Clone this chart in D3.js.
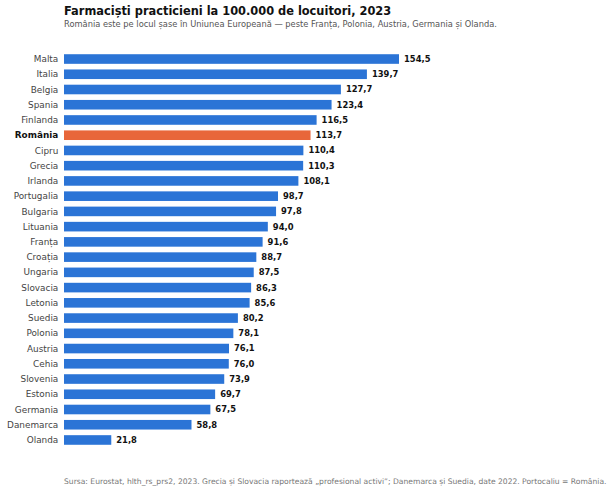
<!DOCTYPE html>
<html>
<head>
<meta charset="utf-8">
<script src="https://cdn.jsdelivr.net/npm/d3@7"></script>
<style>
  body { margin: 0; background: #fff; }
  text { font-family: "DejaVu Sans", sans-serif; }
</style>
</head>
<body>
<div id="chart"></div>
<script>
// date: farmacisti la 100.000 locuitori
const tari = ["Malta", "Italia", "Belgia", "Spania", "Finlanda", "România", "Cipru", "Grecia", "Irlanda",
  "Portugalia", "Bulgaria", "Lituania", "Franța", "Croația", "Ungaria", "Slovacia", "Letonia", "Suedia",
  "Polonia", "Austria", "Cehia", "Slovenia", "Estonia", "Germania", "Danemarca", "Olanda"];
const valori = [154.5, 139.7, 127.7, 123.4, 116.5, 113.7, 110.4, 110.3, 108.1, 98.7, 97.8, 94.0, 91.6,
  88.7, 87.5, 86.3, 85.6, 80.2, 78.1, 76.1, 76.0, 73.9, 69.7, 67.5, 58.8, 21.8];
const evidentiat = "România";

const width = 614, height = 495;
const left = 64;

const svg = d3.select("#chart").append("svg")
  .attr("width", width)
  .attr("height", height);

const x = d3.scaleLinear().domain([0, 154.5]).range([left, 399]);
const y = d3.scaleBand().domain(tari).range([51.4, 447.6]).paddingInner(0.37).paddingOuter(0.185);

const fmt = v => d3.format(".1f")(v).replace(".", ",");

// titlu
svg.append("text")
  .attr("x", left).attr("y", 14.8)
  .attr("font-size", 11.4).attr("font-weight", "bold").attr("fill", "#111")
  .text("Farmaciști practicieni la 100.000 de locuitori, 2023");

svg.append("text")
  .attr("x", left).attr("y", 27)
  .attr("font-size", 8.3).attr("fill", "#555")
  .text("România este pe locul șase în Uniunea Europeană — peste Franța, Polonia, Austria, Germania și Olanda.");

const rows = svg.append("g").selectAll("g")
  .data(tari)
  .join("g");

rows.append("rect")
  .attr("x", x(0))
  .attr("y", d => y(d))
  .attr("width", (d, i) => x(valori[i]) - x(0))
  .attr("height", y.bandwidth())
  .attr("fill", d => d === evidentiat ? "#e8663a" : "#2b74d6");

rows.append("text")
  .attr("x", left - 5.7)
  .attr("y", d => y(d) + y.bandwidth() / 2)
  .attr("dy", "0.35em")
  .attr("text-anchor", "end")
  .attr("font-size", 8.9)
  .attr("font-weight", d => d === evidentiat ? "bold" : "normal")
  .attr("fill", d => d === evidentiat ? "#111" : "#444")
  .text(d => d);

rows.append("text")
  .attr("x", (d, i) => x(valori[i]) + 5)
  .attr("y", d => y(d) + y.bandwidth() / 2)
  .attr("dy", "0.35em")
  .attr("font-size", 8.4)
  .attr("font-weight", "bold")
  .attr("fill", "#111")
  .text((d, i) => fmt(valori[i]));

// sursa
svg.append("text")
  .attr("x", left).attr("y", 484)
  .attr("font-size", 7.6).attr("fill", "#777")
  .text("Sursa: Eurostat, hlth_rs_prs2, 2023. Grecia și Slovacia raportează „profesional activi”; Danemarca și Suedia, date 2022. Portocaliu = România.");
</script>
</body>
</html>
